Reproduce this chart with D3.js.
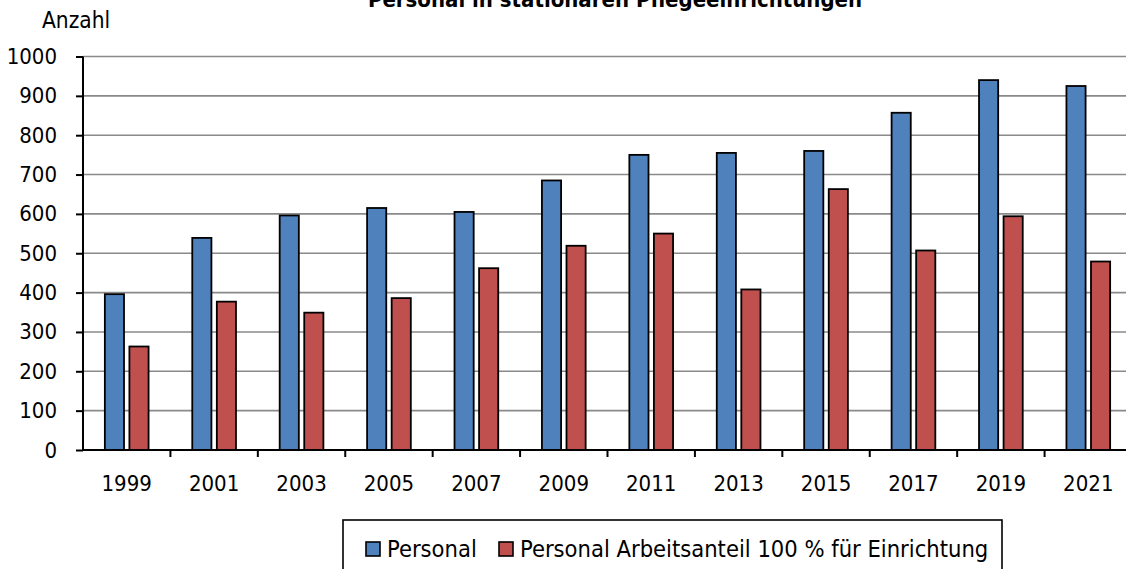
<!DOCTYPE html>
<html lang="de">
<head>
<meta charset="utf-8">
<script src="https://cdn.jsdelivr.net/npm/d3@7"></script>
<style>
  html, body { margin: 0; padding: 0; background: #ffffff; }
  svg { display: block; }
  text { font-family: "DejaVu Sans Condensed", "DejaVu Sans", sans-serif; fill: #000; }
</style>
</head>
<body>
<svg id="chart" width="1126" height="569"></svg>
<script>
// Personal in stationären Pflegeeinrichtungen, 1999–2021
const years = ["1999", "2001", "2003", "2005", "2007", "2009", "2011", "2013", "2015", "2017", "2019", "2021"];
const personal = [396, 539, 596, 615, 605, 685, 750, 755, 760, 857, 940, 925];
const personalVollzeit = [263, 377, 349, 386, 462, 519, 550, 408, 663, 507, 594, 479];
const seriesNames = ["Personal", "Personal Arbeitsanteil 100 % für Einrichtung"];
const seriesColors = ["#4F81BD", "#C0504D"];
const yTicks = [0, 100, 200, 300, 400, 500, 600, 700, 800, 900, 1000];

const W = 1126, H = 569;
const plot = { left: 83, right: 1132, top: 56.5, bottom: 450 };

const svg = d3.select("#chart");

const x0 = d3.scaleBand()
  .domain(years)
  .range([plot.left, plot.right])
  .paddingInner(0.5)
  .paddingOuter(0.25);

const x1 = d3.scaleBand()
  .domain([0, 1])
  .range([0, x0.bandwidth()])
  .paddingInner(0.22);

const y = d3.scaleLinear()
  .domain([0, 1000])
  .range([plot.bottom, plot.top]);

// horizontal gridlines
svg.append("g")
  .selectAll("line")
  .data(yTicks.filter(d => d > 0))
  .join("line")
  .attr("x1", plot.left)
  .attr("x2", W)
  .attr("y1", d => y(d))
  .attr("y2", d => y(d))
  .attr("stroke", "#8a8a8a")
  .attr("stroke-width", 1.6);

// bars
const rows = years.map((yr, i) => ({ year: yr, values: [personal[i], personalVollzeit[i]] }));
svg.append("g")
  .selectAll("g")
  .data(rows)
  .join("g")
  .attr("transform", d => `translate(${x0(d.year)},0)`)
  .selectAll("rect")
  .data(d => d.values.map((v, k) => ({ k, v })))
  .join("rect")
  .attr("x", d => x1(d.k))
  .attr("width", x1.bandwidth())
  .attr("y", d => y(d.v))
  .attr("height", d => y(0) - y(d.v))
  .attr("fill", d => seriesColors[d.k])
  .attr("stroke", "#000")
  .attr("stroke-width", 1.8);

// y axis
const yAxis = d3.axisLeft(y)
  .tickValues(yTicks)
  .tickSize(7)
  .tickPadding(19)
  .tickFormat(d3.format("d"));
const gy = svg.append("g")
  .attr("transform", `translate(${plot.left},0)`)
  .call(yAxis);
gy.select(".domain").attr("stroke", "#000").attr("stroke-width", 2)
  .attr("d", `M0,${plot.top}V${plot.bottom}`);
gy.selectAll(".tick line").attr("stroke", "#000").attr("stroke-width", 2);
gy.selectAll(".tick text")
  .attr("font-size", 22)
  .attr("font-family", "DejaVu Sans Condensed")
  .attr("fill", "#000");

// x axis: ticks sit on the category boundaries
const gx = svg.append("g")
  .attr("transform", `translate(0,${plot.bottom})`);
gx.append("line")
  .attr("x1", plot.left).attr("x2", W)
  .attr("y1", 0).attr("y2", 0)
  .attr("stroke", "#000").attr("stroke-width", 2);
gx.selectAll("line.tick")
  .data(years.slice(1))
  .join("line")
  .attr("class", "tick")
  .attr("x1", d => x0(d) - x0.step() * 0.25)
  .attr("x2", d => x0(d) - x0.step() * 0.25)
  .attr("y1", 0).attr("y2", 7)
  .attr("stroke", "#000").attr("stroke-width", 2);
gx.selectAll("text")
  .data(years)
  .join("text")
  .attr("x", d => x0(d) + x0.bandwidth() / 2)
  .attr("y", 41)
  .attr("text-anchor", "middle")
  .attr("font-size", 22)
  .text(d => d);

// title (runs past the top edge)
svg.append("text")
  .attr("x", 615)
  .attr("y", 7)
  .attr("text-anchor", "middle")
  .attr("font-size", 22)
  .attr("font-weight", "bold")
  .text("Personal in stationären Pflegeeinrichtungen");

// axis unit label
svg.append("text")
  .attr("x", 42)
  .attr("y", 28)
  .attr("font-size", 22.5)
  .text("Anzahl");

// legend
const legend = svg.append("g");
legend.append("rect")
  .attr("x", 343).attr("y", 520)
  .attr("width", 659).attr("height", 70)
  .attr("fill", "#fff")
  .attr("stroke", "#000").attr("stroke-width", 1.6);
const legendX = [366, 499];
seriesNames.forEach((name, k) => {
  legend.append("rect")
    .attr("x", legendX[k]).attr("y", 542)
    .attr("width", 14).attr("height", 14)
    .attr("fill", seriesColors[k])
    .attr("stroke", "#000").attr("stroke-width", 1.6);
  legend.append("text")
    .attr("x", legendX[k] + 21)
    .attr("y", 557)
    .attr("font-size", 23.5)
    .text(name);
});
</script>
</body>
</html>
